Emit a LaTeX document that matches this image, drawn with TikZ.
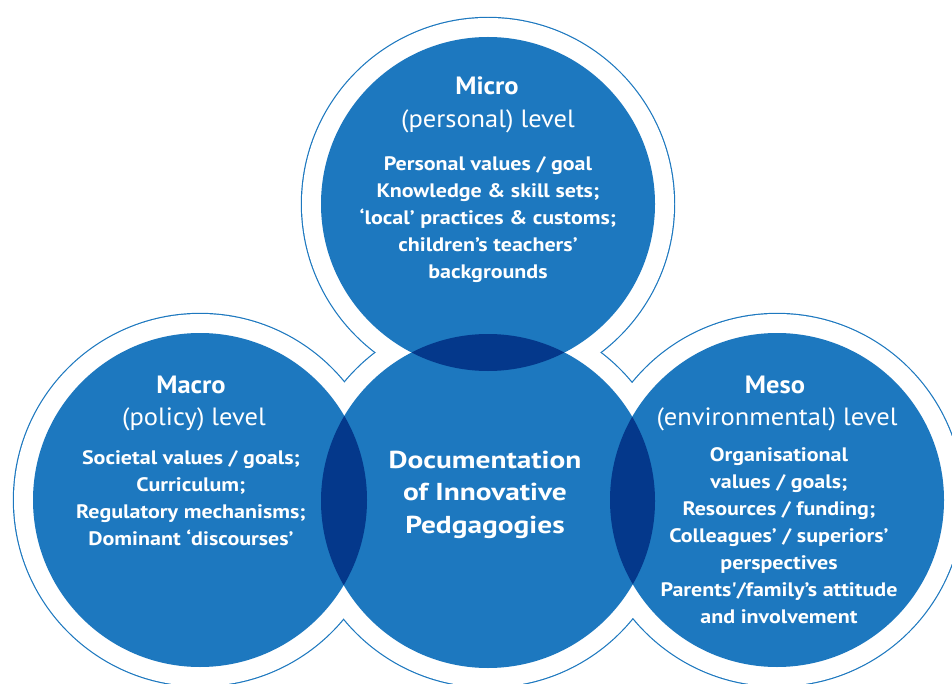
\documentclass[tikz,border=0pt]{standalone}
\usepackage{fontspec}
\setmainfont{PT Sans}
\newfontfamily\bodyfont[FakeStretch=1.13]{PT Sans}
\newfontfamily\plainqfont[FakeStretch=1.13,Ligatures=ResetAll]{PT Sans}
\newfontfamily\centrefont[FakeStretch=1.2]{PT Sans}
\newfontfamily\ttlfont[FakeStretch=1.06]{PT Sans}
\definecolor{mblue}{RGB}{29,120,191}
\definecolor{dblue}{RGB}{4,56,139}
\begin{document}
\begin{tikzpicture}[x=1pt,y=-1pt,
  ttl/.style={text=white,font=\ttlfont\bfseries\fontsize{25}{30}\selectfont,anchor=base,inner sep=0pt},
  sub/.style={text=white,font=\ttlfont\fontsize{25}{30}\selectfont,anchor=base,inner sep=0pt},
  body/.style={text=white,font=\bodyfont\bfseries\fontsize{19.5}{27}\selectfont,anchor=base,align=center,inner sep=0pt},
  cbody/.style={text=white,font=\centrefont\bfseries\fontsize{24.5}{32.5}\selectfont,anchor=base,align=center,inner sep=0pt}]
\useasboundingbox (0,0) rectangle (952,684);
\clip (0,0) rectangle (952,684);
\coordinate (T) at (488,204);
\coordinate (L) at (200,500);
\coordinate (C) at (488,501);
\coordinate (R) at (777,500);
\foreach \p in {T,L,C,R} \draw[mblue,line width=2.4pt] (\p) circle[radius=186];
\foreach \p in {T,L,C,R} \fill[white] (\p) circle[radius=186];
\foreach \p in {T,L,C,R} \fill[mblue] (\p) circle[radius=167];
\begin{scope}
  \clip (C) circle[radius=167];
  \fill[dblue] (T) circle[radius=167];
  \fill[dblue] (L) circle[radius=167];
  \fill[dblue] (R) circle[radius=167];
\end{scope}
% top
\node[ttl] (microT) at (487,95) {Micro};
\node[sub] (microS) at (488,128) {(personal) level};
\node[body] (microB) at (488,279) {Personal values / goal\\Knowledge \& skill sets;\\‘local’ practices \& customs;\\children’s teachers’\\backgrounds};
% left
\node[ttl] (macroT) at (191,393) {Macro};
\node[sub] (macroS) at (194,425) {(policy) level};
\node[body] (macroB) at (191,545) {Societal values / goals;\\Curriculum;\\Regulatory mechanisms;\\Dominant ‘discourses’};
% right
\node[ttl] (mesoT) at (775,393) {Meso};
\node[sub] (mesoS) at (777,425) {(environmental) level};
\node[body] (mesoB) at (779,623) {Organisational\\values / goals;\\Resources / funding;\\Colleagues’ / superiors’\\perspectives\\Parents{\plainqfont\bfseries'}/family’s attitude\\and involvement};
% centre
\node[cbody] (docB) at (485,533) {Documentation\\of Innovative\\Pedgagogies};
\end{tikzpicture}
\end{document}
